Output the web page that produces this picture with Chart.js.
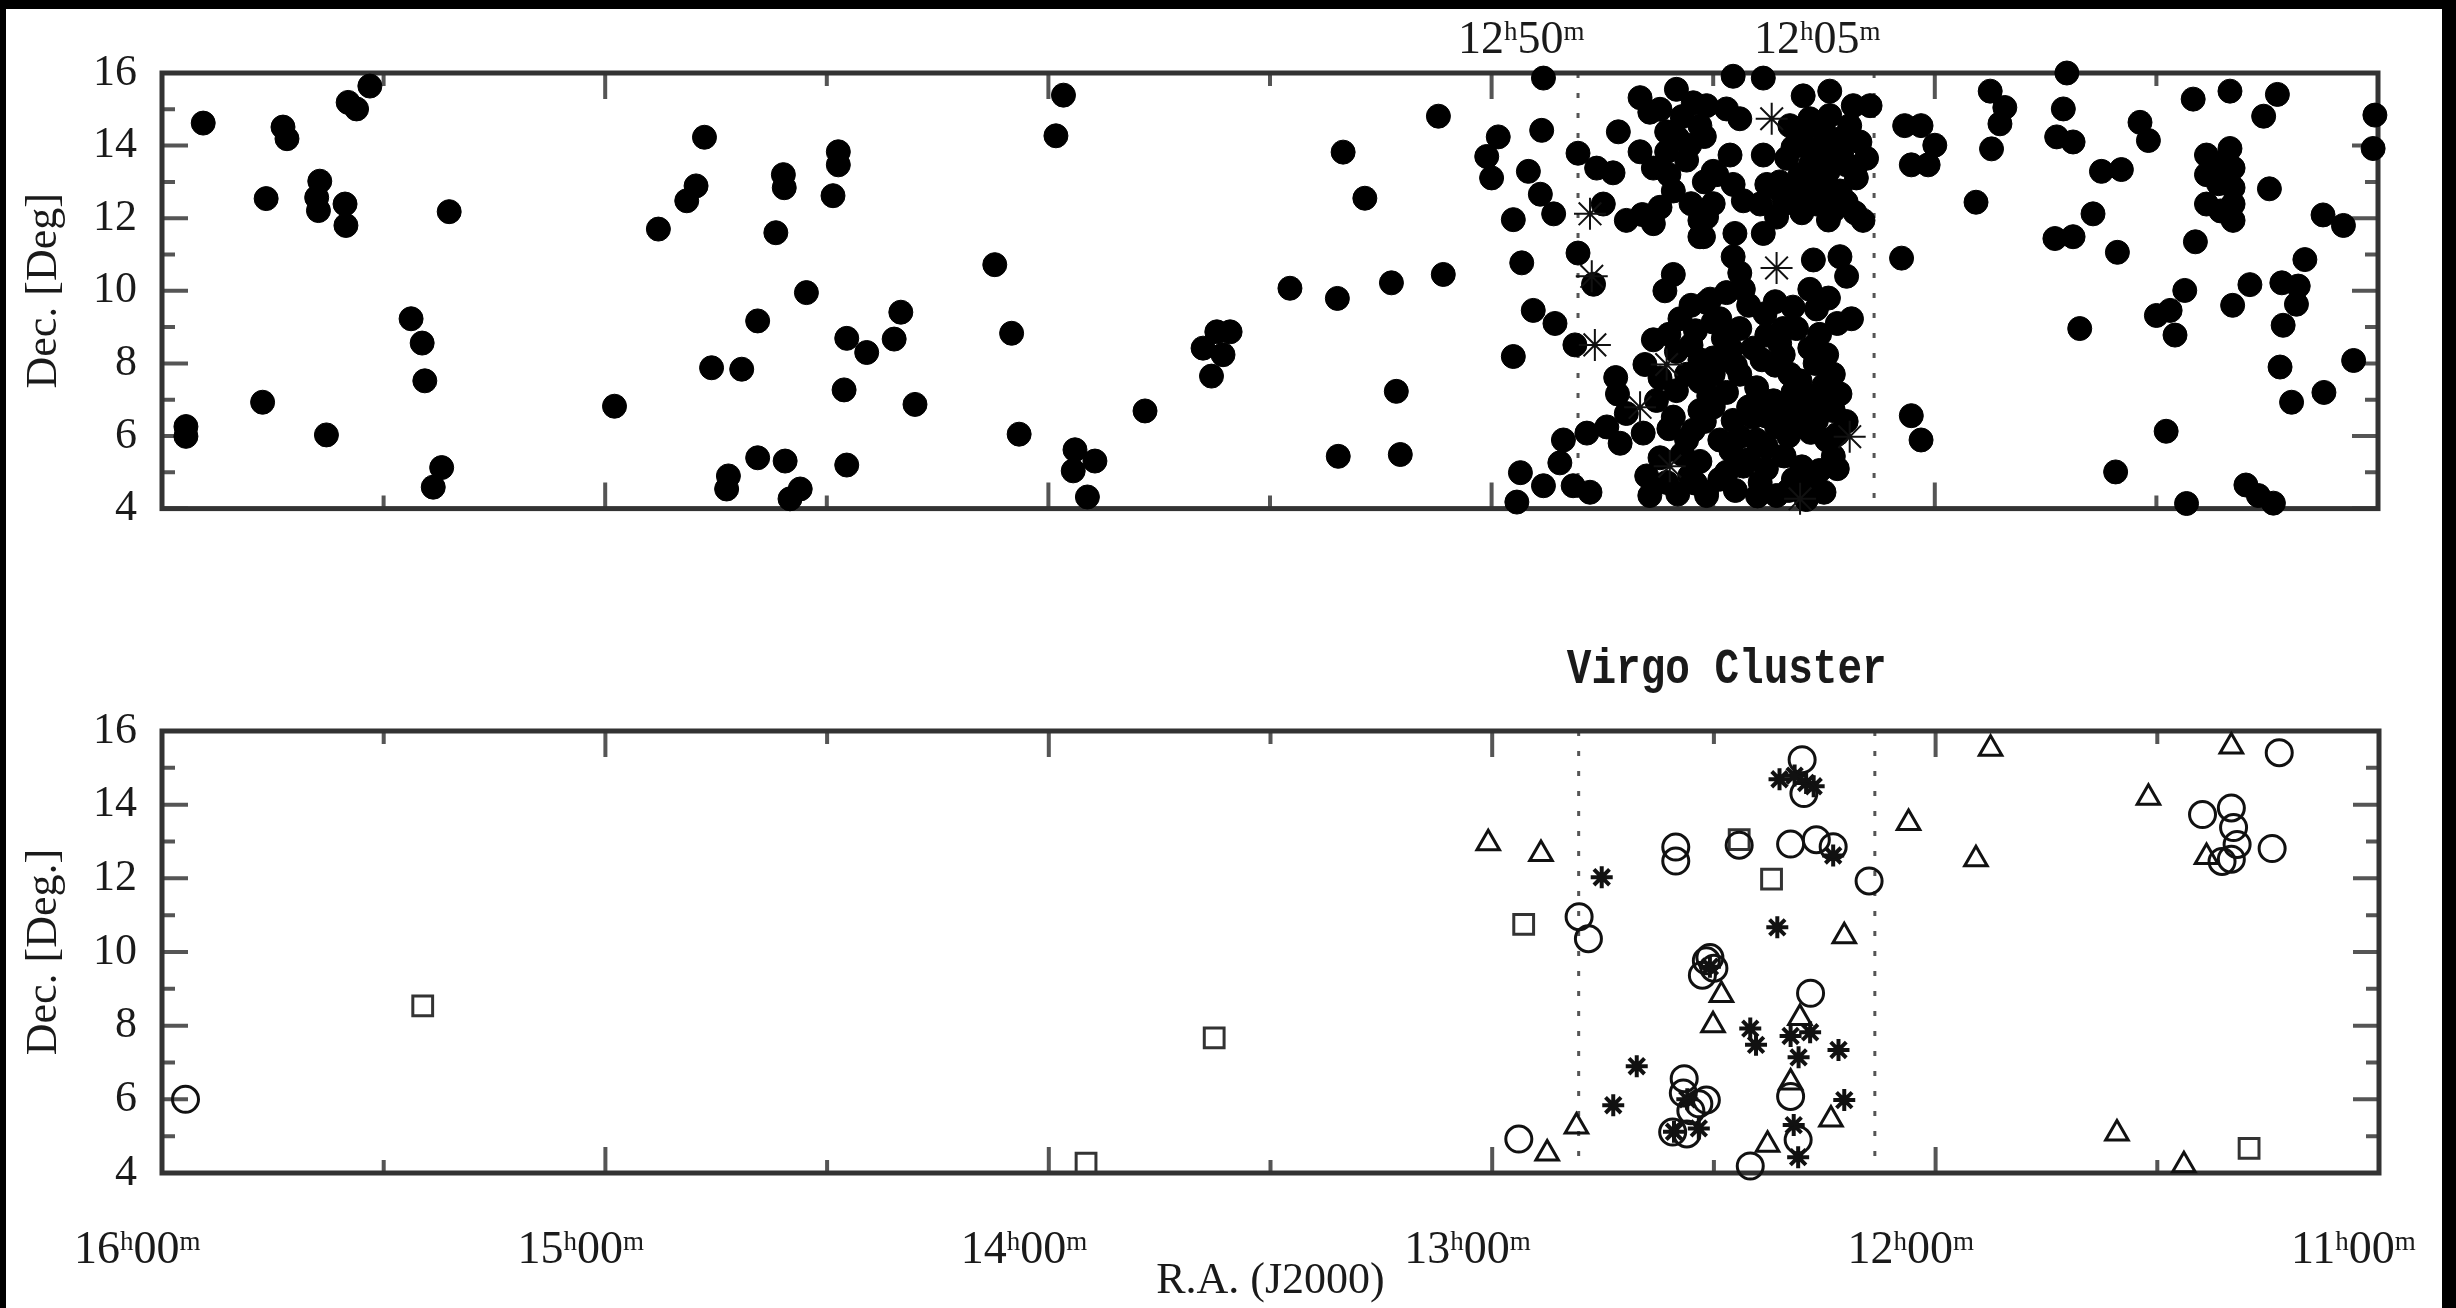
<!DOCTYPE html>
<html>
<head>
<meta charset="utf-8">
<script src="https://cdn.jsdelivr.net/npm/chart.js@4.4.1/dist/chart.umd.min.js"></script>
<style>
  html, body { margin: 0; padding: 0; background: #000; }
  #page { position: relative; width: 2456px; height: 1308px; background: #000; overflow: hidden; }
  #sheet { position: absolute; left: 6px; top: 9px; width: 2436px; height: 1299px; background: #fff; }
  #top-wrap { position: absolute; left: 0; top: 0; width: 2456px; height: 560px; }
  #bot-wrap { position: absolute; left: 0; top: 600px; width: 2456px; height: 708px; }
</style>
</head>
<body>
<div id="page">
  <div id="sheet"></div>
  <div id="top-wrap"><canvas id="top-chart"></canvas></div>
  <div id="bot-wrap"><canvas id="bot-chart"></canvas></div>
</div>
<script>
// 上图：全部星系（R.A. 小时, Dec. 度）
const galRA = [
  15.907,15.727,15.718,15.580,15.561,15.531,15.765,15.644,15.651,15.647,15.587,15.585,15.352,15.438,15.413,15.407,15.773,15.946,15.946,15.629,15.369,15.388,
  14.776,14.795,14.816,14.880,14.598,14.596,14.474,14.474,14.486,14.615,14.121,14.546,14.656,14.333,14.455,14.410,14.348,14.083,14.760,14.692,14.461,14.301,14.979,14.066,14.656,14.594,14.455,14.722,14.726,14.560,14.583,
  13.966,13.983,13.120,13.335,13.286,13.455,13.348,13.226,13.109,13.620,13.590,13.651,13.606,13.632,13.782,13.215,13.346,13.206,13.940,13.895,13.944,13.912,
  12.883,12.887,12.985,13.011,13.000,12.917,12.890,12.860,12.951,12.932,
  12.805,12.770,12.906,12.857,12.812,12.951,12.805,12.763,12.726,12.714,
  12.665,12.643,12.583,12.545,12.530,12.553,12.605,12.605,12.665,12.635,
  12.590,12.748,12.696,12.635,12.530,12.530,12.492,12.590,12.609,12.575,
  12.515,12.500,12.635,12.583,12.654,12.500,12.720,12.716,12.696,12.658,
  12.628,12.583,12.590,12.545,12.560,12.500,12.838,12.846,12.816,12.778,
  12.883,12.935,12.943,12.785,12.740,12.710,12.650,12.643,12.605,12.553,
  12.515,
  12.455,12.387,12.515,12.470,12.440,12.297,12.237,12.184,12.146,12.462,
  12.387,12.500,12.455,12.432,12.515,12.522,12.451,12.387,12.357,12.327,
  12.282,12.237,12.192,12.169,12.154,12.177,12.214,12.259,12.304,12.334,
  12.282,12.237,12.199,12.319,12.267,12.229,12.162,12.349,12.379,12.394,
  12.455,12.440,12.432,12.274,12.214,12.199,12.282,12.267,12.383,12.188,
  12.507,12.485,12.477,12.500,12.500,12.440,12.410,12.379,12.342,12.312,
  12.282,12.244,12.229,12.214,12.229,12.342,12.327,12.304,12.440,12.402,
  12.364,12.334,12.500,12.455,12.410,12.485,12.440,12.402,12.357,12.312,
  12.267,12.244,12.229,12.432,12.394,12.357,12.319,12.282,12.515,12.485,
  12.068,12.031,12.000,12.053,12.015,12.075,12.053,12.031,
  // 核心密集区
  12.30,12.25,12.21,12.26,12.21,12.18,12.24,12.28,12.32,12.30,12.25,12.20,12.18,12.24,12.30,12.34,12.35,
  12.47,12.42,12.36,12.32,12.24,12.22,12.26,12.35,12.39,12.46,
  12.45,12.36,12.27,12.25,12.28,12.32,12.40,12.47,12.42,12.38,
  12.30,12.26,12.20,12.22,12.28,12.33,12.38,12.46,12.42,12.34,
  12.30,12.26,12.22,12.38,12.47,12.45,12.40,12.33,12.25,12.29,
  12.62,12.57,12.58,12.52,12.56,12.60,12.52,12.55,12.62,12.66,12.50,
  12.55,12.54,12.60,12.55,12.53,12.56,12.62,12.53,12.51,12.53,12.52,12.60,12.57,12.62,12.53,12.58,12.54,
  11.702,11.875,11.842,11.853,11.872,11.710,11.725,11.688,11.537,11.518,
  11.624,11.579,11.907,11.417,11.334,11.227,11.258,11.007,11.011,11.387,
  11.334,11.387,11.327,11.327,11.387,11.327,11.327,11.245,11.124,11.078,
  11.643,11.729,11.688,11.588,11.412,11.165,11.217,11.180,11.184,11.214,
  11.289,11.328,11.436,11.500,11.469,11.458,11.673,11.055,11.221,11.195,
  11.122,11.478,11.592,11.432,11.298,11.270,11.236,
  11.360,11.360,11.355
];
const galDec = [
  14.62,14.51,14.19,15.19,15.01,15.64,12.54,13.02,12.57,12.21,12.39,11.80,12.18,9.23,8.56,7.52,6.93,6.26,5.99,6.03,5.13,4.59,
  14.23,12.89,12.48,11.70,13.20,12.84,13.83,13.47,12.62,11.60,10.72,9.95,9.17,9.41,8.69,8.30,8.67,8.83,7.88,7.84,7.27,6.87,6.82,6.05,5.40,5.31,5.20,4.90,4.54,4.54,4.27,
  15.39,14.27,14.81,13.82,12.55,10.07,9.79,10.22,10.45,8.87,8.87,8.42,8.24,7.65,6.69,7.23,5.44,5.49,5.62,5.31,5.04,4.32,
  15.86,14.42,14.24,13.70,13.11,13.29,12.66,12.12,11.96,10.77,
  11.04,10.18,9.46,9.10,8.51,8.19,13.79,13.38,13.25,14.38,
  15.32,14.92,15.55,15.18,14.55,14.01,14.38,13.83,13.83,13.38,
  12.75,12.39,11.94,11.85,11.94,11.49,13.20,10.45,10.00,9.23,
  9.68,9.14,8.65,8.33,7.97,7.88,7.61,7.16,6.62,6.08,
  6.98,7.25,6.52,6.16,5.89,6.80,5.89,5.26,4.63,4.45,
  4.63,4.99,4.18,6.08,6.25,5.80,4.90,4.36,4.72,4.90,
  4.36,
  15.91,15.86,15.10,15.01,14.74,15.37,15.50,15.10,15.10,13.74,
  13.74,13.29,12.93,12.48,12.03,11.49,11.58,11.58,12.03,14.55,
  14.74,14.83,14.55,14.10,13.65,13.11,12.75,12.93,13.20,13.65,
  13.92,14.01,13.47,12.57,12.39,12.21,11.94,12.75,12.93,12.39,
  10.94,10.49,10.04,10.85,10.94,10.40,10.04,9.50,9.37,9.23,
  9.77,9.23,8.69,8.15,7.70,8.96,8.42,8.78,8.96,8.96,
  8.42,8.24,7.70,7.16,6.70,8.24,7.70,7.52,7.70,7.33,
  6.97,6.79,6.89,6.43,6.52,5.89,5.98,5.89,6.25,6.34,
  6.43,5.89,5.44,5.17,4.72,4.36,4.81,4.72,4.45,4.81,
  14.55,14.55,14.01,13.47,13.47,10.90,6.56,5.89,
  // 核心密集区
  14.30,14.40,14.20,13.70,13.75,13.40,13.30,13.50,13.95,12.80,12.65,12.45,12.15,11.95,12.15,12.40,13.00,
  9.95,9.60,9.70,9.55,9.80,9.10,8.80,8.55,8.10,8.40,
  7.95,7.95,8.00,7.40,7.10,7.20,7.00,7.20,6.80,6.55,
  6.70,6.95,6.40,6.05,6.10,6.00,5.70,5.60,5.35,5.45,
  5.15,5.05,5.10,5.10,5.00,4.50,4.35,4.50,4.45,4.25,
  15.00,14.80,14.20,14.25,13.60,13.20,13.00,12.40,12.30,12.10,12.40,
  9.60,8.90,8.80,8.50,8.10,7.70,7.60,7.50,7.10,6.70,6.40,6.20,5.50,5.40,5.30,4.40,4.70,
  16.00,15.50,15.05,14.60,13.91,15.01,14.24,14.10,14.64,14.14,
  13.29,13.34,12.44,15.28,15.50,15.41,14.81,14.84,13.92,13.74,
  13.92,13.20,13.38,12.84,12.39,12.39,11.94,12.81,12.09,11.80,
  12.12,11.44,11.49,11.06,11.35,10.86,10.22,10.13,9.63,9.05,
  10.17,9.60,10.01,9.32,9.46,8.78,8.96,8.08,7.90,6.93,
  7.20,6.13,5.01,4.14,4.65,4.36,4.15,
  13.50,12.95,12.20
];
// 上图中的星号标记
const starRA  = [12.774,12.767,12.665,12.598,12.778,12.605,12.357,12.192,12.304,12.368];
const starDec = [10.40, 8.51, 6.79, 5.17,12.12, 7.97,10.63, 5.98, 4.27,14.74];

// 下图：四类标记
const circRA  = [15.947,12.804,12.783,12.586,12.586,12.443,12.327,12.269,12.231,12.150,12.517,12.500,12.526,12.509,12.282,12.567,12.569,12.534,12.517,12.552,12.593,12.561,12.940,12.418,12.310,12.301,12.297,11.225,11.398,11.333,11.328,11.320,11.333,11.354,11.241,12.327];
const circDec = [6.00,10.96,10.36,12.85,12.47,12.90,12.93,13.05,12.86,11.93,9.76,9.56,9.37,9.85,8.88,6.56,6.17,5.88,5.98,5.69,5.11,5.06,4.92,4.19,4.90,15.22,14.30,15.41,13.73,13.91,13.38,12.92,12.52,12.46,12.81,6.08];
const triRA   = [13.009,12.890,12.206,12.483,12.502,12.306,12.810,12.876,12.379,12.327,12.236,11.876,12.061,11.909,11.520,11.333,11.389,11.591,11.440];
const triDec  = [12.95,12.66,10.43,8.83,8.01,8.21,5.26,4.53,4.77,6.46,5.45,15.52,13.50,12.52,14.19,15.58,12.58,5.07,4.21];
const sqRA    = [15.412,13.916,13.627,12.929,12.443,12.370,11.293];
const sqDec   = [8.54,4.27,7.67,10.75,13.05,11.98,4.67];
const astRA   = [12.753,12.231,12.357,12.418,12.405,12.327,12.283,12.309,12.219,12.674,12.727,12.534,12.590,12.206,12.352,12.318,12.292,12.275,12.310,12.320,12.509,12.560];
const astDec  = [12.03,12.62,10.67,7.92,7.48,7.72,7.82,7.14,7.34,6.90,5.84,5.21,5.12,5.98,14.69,14.79,14.59,14.50,4.43,5.30,9.60,6.00];

// 虚线位置（室女座星系团边界）及其标注
const edgeRA     = [12.805, 12.137];
const edgeLabels = [['12', '50'], ['12', '05']];
const clusterName = 'Virgo Cluster';

const serif = '"Liberation Serif", "DejaVu Serif", serif';
const inkColor = '#1a1a1a';

function pts(ra, dec) {
    return ra.map((r, i) => ({ x: r, y: dec[i] }));
}

// 画 12h50m 这类带上标的赤经标注
function drawRA(ctx, left, base, hh, mm) {
    const big = '46px ' + serif;
    const small = '27px ' + serif;
    let x = left;
    ctx.textAlign = 'left';
    ctx.textBaseline = 'alphabetic';
    ctx.font = big;  ctx.fillText(hh, x, base); x += ctx.measureText(hh).width;
    ctx.font = small; ctx.fillText('h', x, base - 13); x += ctx.measureText('h').width;
    ctx.font = big;  ctx.fillText(mm, x, base); x += ctx.measureText(mm).width;
    ctx.font = small; ctx.fillText('m', x, base - 13);
}

// 边框、刻度、虚线与文字
const skyFrame = {
    id: 'skyFrame',
    beforeDatasetsDraw(chart, args, opts) {
        const { ctx, chartArea: a, scales: { x, y } } = chart;
        ctx.save();
        // 虚线
        ctx.strokeStyle = '#555';
        ctx.lineWidth = 3;
        ctx.setLineDash([5, 15]);
        edgeRA.forEach(ra => {
            const px = x.getPixelForValue(ra);
            ctx.beginPath(); ctx.moveTo(px, a.top); ctx.lineTo(px, a.bottom); ctx.stroke();
        });
        ctx.setLineDash([]);
        // 内向刻度
        ctx.strokeStyle = '#555';
        ctx.lineWidth = 4;
        y.ticks.forEach(t => {
            const py = y.getPixelForValue(t.value);
            const len = t.value % 2 === 0 ? 26 : 13;
            ctx.beginPath();
            ctx.moveTo(a.left, py); ctx.lineTo(a.left + len, py);
            ctx.moveTo(a.right, py); ctx.lineTo(a.right - len, py);
            ctx.stroke();
        });
        x.ticks.forEach(t => {
            const px = x.getPixelForValue(t.value);
            const len = Number.isInteger(t.value) ? 26 : 13;
            ctx.beginPath();
            ctx.moveTo(px, a.top); ctx.lineTo(px, a.top + len);
            ctx.moveTo(px, a.bottom); ctx.lineTo(px, a.bottom - len);
            ctx.stroke();
        });
        // 外框
        ctx.strokeStyle = '#333';
        ctx.lineWidth = 5;
        ctx.strokeRect(a.left, a.top, a.right - a.left, a.bottom - a.top);
        ctx.restore();
    },
    afterDraw(chart, args, opts) {
        const { ctx, chartArea: a, scales: { x } } = chart;
        ctx.save();
        ctx.fillStyle = inkColor;
        if (opts.edgeText) {
            edgeRA.forEach((ra, i) => {
                const px = x.getPixelForValue(ra);
                drawRA(ctx, px - 120, a.top - 20, edgeLabels[i][0], edgeLabels[i][1]);
            });
        }
        if (opts.hourText) {
            x.ticks.filter(t => Number.isInteger(t.value)).forEach(t => {
                const px = x.getPixelForValue(t.value);
                drawRA(ctx, px - 88, a.bottom + 90, String(t.value), '00');
            });
        }
        if (opts.caption) {
            const cx = (x.getPixelForValue(edgeRA[0]) + x.getPixelForValue(edgeRA[1])) / 2;
            ctx.translate(cx, a.top - 48);
            ctx.scale(1, 1.2);
            ctx.font = 'bold 41px "Liberation Mono", "DejaVu Sans Mono", monospace';
            ctx.textAlign = 'center';
            ctx.textBaseline = 'alphabetic';
            ctx.fillText(opts.caption, 0, 0);
        }
        ctx.restore();
    }
};

function skyOptions(cfg) {
    return {
        responsive: true,
        maintainAspectRatio: false,
        animation: false,
        layout: { padding: { left: 0, right: cfg.padRight, top: cfg.padTop, bottom: 0 } },
        plugins: {
            legend: { display: false },
            tooltip: { enabled: false },
            skyFrame: cfg.frame
        },
        scales: {
            x: {
                type: 'linear', min: 11, max: 16, reverse: true,
                ticks: { display: false, stepSize: 0.5 },
                grid: { display: false, drawTicks: false },
                border: { display: false },
                title: {
                    display: !!cfg.xTitle, text: cfg.xTitle || '', color: inkColor,
                    font: { family: serif, size: 44 }, padding: { top: 0, bottom: 0 }
                },
                afterFit: s => { s.height = cfg.xHeight; }
            },
            y: {
                type: 'linear', min: 4, max: 16,
                ticks: {
                    stepSize: 1, autoSkip: false, padding: 25, color: inkColor,
                    font: { family: serif, size: 44 },
                    callback: v => (v % 2 === 0 ? String(v) : '')
                },
                grid: { display: false, drawTicks: false },
                border: { display: false },
                title: {
                    display: true, text: cfg.yTitle, color: inkColor,
                    font: { family: serif, size: 44 }, padding: { top: 18, bottom: 0 }
                },
                afterFit: s => { s.width = 162; }
            }
        }
    };
}

new Chart(document.getElementById('top-chart'), {
    type: 'scatter',
    data: {
        datasets: [
            { data: pts(starRA, starDec), pointStyle: 'star', pointRadius: 16, borderColor: '#111', borderWidth: 2, clip: false },
            { data: pts(galRA, galDec), pointStyle: 'circle', pointRadius: 12, backgroundColor: '#000', borderColor: '#000', borderWidth: 1, clip: false }
        ]
    },
    options: skyOptions({ padTop: 73, padRight: 78, xHeight: 44, yTitle: 'Dec. [Deg]', xTitle: null, frame: { edgeText: true } }),
    plugins: [skyFrame]
});

new Chart(document.getElementById('bot-chart'), {
    type: 'scatter',
    data: {
        datasets: [
            { data: pts(circRA, circDec), pointStyle: 'circle', pointRadius: 13, backgroundColor: 'rgba(0,0,0,0)', borderColor: '#111', borderWidth: 3, clip: false },
            { data: pts(triRA, triDec), pointStyle: 'triangle', pointRadius: 13, backgroundColor: 'rgba(0,0,0,0)', borderColor: '#111', borderWidth: 3, clip: false },
            { data: pts(sqRA, sqDec), pointStyle: 'rect', pointRadius: 14, backgroundColor: 'rgba(0,0,0,0)', borderColor: '#333', borderWidth: 3, clip: false },
            { data: pts(astRA, astDec), pointStyle: 'star', pointRadius: 11, borderColor: '#111', borderWidth: 4, clip: false }
        ]
    },
    options: skyOptions({ padTop: 131, padRight: 77, xHeight: 135, yTitle: 'Dec. [Deg.]', xTitle: 'R.A. (J2000)', frame: { hourText: true, caption: clusterName } }),
    plugins: [skyFrame]
});
</script>
</body>
</html>
